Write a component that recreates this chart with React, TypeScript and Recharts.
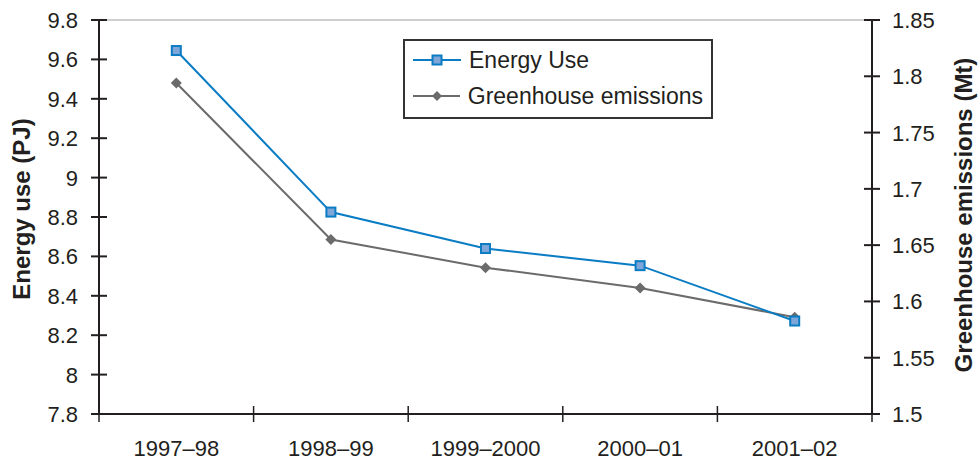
import {
  LineChart,
  Line,
  XAxis,
  YAxis,
  ReferenceLine,
} from 'recharts';

const periods = ['1997–98', '1998–99', '1999–2000', '2000–01', '2001–02'];
const energyUse = [9.645, 8.825, 8.64, 8.553, 8.272];
const greenhouse = [1.794, 1.655, 1.63, 1.612, 1.586];
const energyTicks = [7.8, 8, 8.2, 8.4, 8.6, 8.8, 9, 9.2, 9.4, 9.6, 9.8];
const greenhouseTicks = [1.5, 1.55, 1.6, 1.65, 1.7, 1.75, 1.8, 1.85];

const data = periods.map((period, i) => ({
  period,
  energy: energyUse[i],
  ghg: greenhouse[i],
}));

const W = 978;
const H = 460;
const LEFT_W = 99;
const RIGHT_W = 106;
const BOTTOM_H = 46;
const TOP = 20;
const TICK = 8;
const GAP = 7;
const band = (W - LEFT_W - RIGHT_W) / periods.length;

const BLUE = '#0a7cc4';
const GREY = '#6b6b6b';
const INK = '#231f20';
const FONT = '"Liberation Sans", Arial, sans-serif';

const LeftTick = (props: any) => {
  const { x, y, payload } = props;
  const ax = x + TICK + GAP;
  return (
    <g>
      <line x1={ax - TICK} x2={ax + TICK} y1={y} y2={y} stroke={INK} strokeWidth={2} />
      <text x={x - 6} y={y} dy={8} textAnchor="end" fontSize={22} fill={INK} fontFamily={FONT}>
        {payload.value}
      </text>
    </g>
  );
};

const RightTick = (props: any) => {
  const { x, y, payload } = props;
  const ax = x - TICK - GAP;
  return (
    <g>
      <line x1={ax - TICK} x2={ax + TICK} y1={y} y2={y} stroke={INK} strokeWidth={2} />
      <text x={x + 5} y={y} dy={8} textAnchor="start" fontSize={22} fill={INK} fontFamily={FONT}>
        {payload.value}
      </text>
    </g>
  );
};

const BottomTick = (props: any) => {
  const { x, y, payload, index } = props;
  const ay = y - TICK - GAP;
  return (
    <g>
      <line x1={x - band / 2} x2={x - band / 2} y1={ay - TICK} y2={ay + TICK} stroke={INK} strokeWidth={1.5} />
      {index === periods.length - 1 && (
        <line x1={x + band / 2} x2={x + band / 2} y1={ay - TICK} y2={ay + TICK} stroke={INK} strokeWidth={1.5} />
      )}
      <text x={x} y={ay + 42} textAnchor="middle" fontSize={22} fill={INK} fontFamily={FONT}>
        {payload.value}
      </text>
    </g>
  );
};

const Square = (props: any) => {
  const { cx, cy } = props;
  if (cx == null || cy == null) return null;
  return <rect x={cx - 4.5} y={cy - 4.5} width={9} height={9} fill="#7ea6d8" stroke={BLUE} strokeWidth={2} />;
};

const Diamond = (props: any) => {
  const { cx, cy } = props;
  if (cx == null || cy == null) return null;
  return <path d={`M${cx},${cy - 5.5}L${cx + 5.5},${cy}L${cx},${cy + 5.5}L${cx - 5.5},${cy}Z`} fill={GREY} />;
};

const LegendBox = () => (
  <div
    style={{
      position: 'absolute',
      left: 403,
      top: 39,
      width: 290,
      border: '2px solid #333',
      background: '#fff',
      padding: '1px 8px 3px 8px',
      fontFamily: FONT,
      fontSize: 23,
      color: INK,
      lineHeight: '36px',
      whiteSpace: 'nowrap',
    }}
  >
    <div style={{ display: 'flex', alignItems: 'center' }}>
      <svg width={48} height={14} style={{ marginRight: 8 }}>
        <line x1={0} x2={48} y1={7} y2={7} stroke={BLUE} strokeWidth={2} />
        <rect x={19.5} y={2.5} width={9} height={9} fill="#7ea6d8" stroke={BLUE} strokeWidth={2} />
      </svg>
      Energy Use
    </div>
    <div style={{ display: 'flex', alignItems: 'center' }}>
      <svg width={48} height={14} style={{ marginRight: 8 }}>
        <line x1={0} x2={48} y1={7} y2={7} stroke={GREY} strokeWidth={2} />
        <path d="M24,2L29,7L24,12L19,7Z" fill={GREY} />
      </svg>
      Greenhouse emissions
    </div>
  </div>
);

const App = () => {
  return (
    <div style={{ position: 'absolute', left: 0, top: 0, width: W, height: H, background: '#fff' }}>
      <LineChart width={W} height={H} data={data} margin={{ top: TOP, right: 0, left: 0, bottom: 0 }}>
        <XAxis
          dataKey="period"
          scale="band"
          height={BOTTOM_H}
          stroke={INK}
          strokeWidth={2}
          tickLine={false}
          tickSize={TICK}
          tickMargin={GAP}
          tick={<BottomTick />}
          interval={0}
        />
        <YAxis
          yAxisId="left"
          width={LEFT_W}
          domain={[7.8, 9.8]}
          ticks={energyTicks}
          stroke={INK}
          strokeWidth={2}
          tickLine={false}
          tickSize={TICK}
          tickMargin={GAP}
          tick={<LeftTick />}
          interval={0}
          label={{
            value: 'Energy use (PJ)',
            angle: -90,
            position: 'insideLeft',
            dx: 16,
            dy: -8,
            style: { textAnchor: 'middle', fontWeight: 'bold', fontSize: 24, fill: INK, fontFamily: FONT },
          }}
        />
        <YAxis
          yAxisId="right"
          orientation="right"
          width={RIGHT_W}
          domain={[1.5, 1.85]}
          ticks={greenhouseTicks}
          stroke={INK}
          strokeWidth={2}
          tickLine={false}
          tickSize={TICK}
          tickMargin={GAP}
          tick={<RightTick />}
          interval={0}
          label={{
            value: 'Greenhouse emissions (Mt)',
            angle: -90,
            position: 'insideRight',
            dx: -10,
            dy: -2,
            style: { textAnchor: 'middle', fontWeight: 'bold', fontSize: 24, fill: INK, fontFamily: FONT },
          }}
        />
        <ReferenceLine yAxisId="left" y={9.8} stroke="#cfcfcf" strokeWidth={2} />
        <Line
          yAxisId="right"
          type="linear"
          dataKey="ghg"
          stroke={GREY}
          strokeWidth={2}
          dot={<Diamond />}
          activeDot={false}
          isAnimationActive={false}
          name="Greenhouse emissions"
        />
        <Line
          yAxisId="left"
          type="linear"
          dataKey="energy"
          stroke={BLUE}
          strokeWidth={2}
          dot={<Square />}
          activeDot={false}
          isAnimationActive={false}
          name="Energy Use"
        />
      </LineChart>
      <LegendBox />
    </div>
  );
};

export default App;
